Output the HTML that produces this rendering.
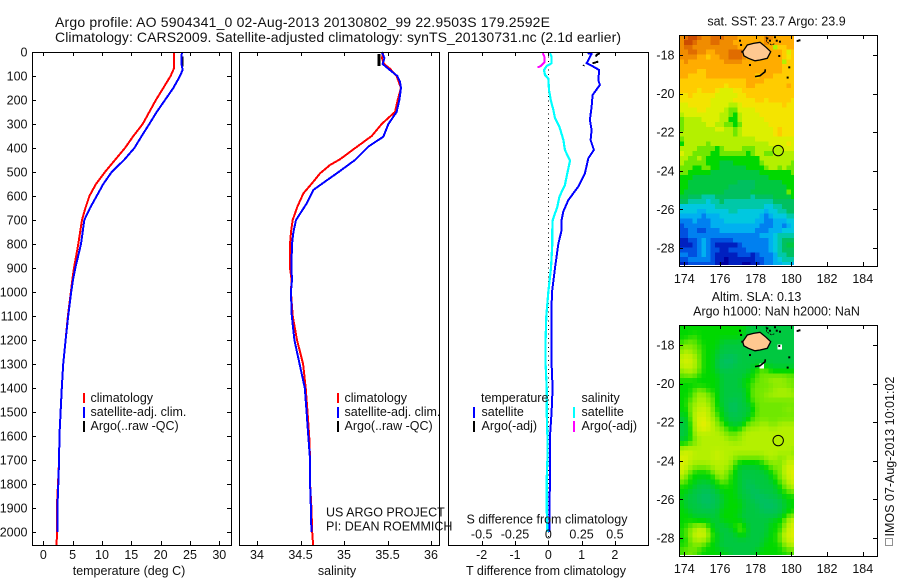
<!DOCTYPE html>
<html lang="en">
<head>
<meta charset="utf-8">
<title>Argo profile 5904341</title>
<style>
html,body{margin:0;padding:0;background:#fff;width:900px;height:580px;overflow:hidden}
svg{display:block}
text{font-family:"Liberation Sans",Arial,sans-serif;font-size:12.5px;fill:#111}
.t{font-size:14px}
</style>
</head>
<body>
<svg id="chart" xmlns="http://www.w3.org/2000/svg" width="900" height="580" viewBox="0 0 900 580">
<defs>
<clipPath id="clip-sst"><rect x="679" y="35" width="115" height="230"/></clipPath>
<clipPath id="clip-sla"><rect x="679" y="325" width="115" height="230"/></clipPath>
</defs>
<rect x="0" y="0" width="900" height="580" fill="#fff"/>
<text class="t" x="55" y="27" textLength="495" lengthAdjust="spacing">Argo profile: AO 5904341_0 02-Aug-2013 20130802_99 22.9503S 179.2592E</text>
<text class="t" x="55" y="42" textLength="566" lengthAdjust="spacing">Climatology: CARS2009. Satellite-adjusted climatology: synTS_20130731.nc (2.1d earlier)</text>

<g id="panel-t"></g>
<g id="panel-s"></g>
<g id="panel-d"></g>
<g id="map-sst"></g>
<g id="map-sla"></g>

<text x="129" y="575" text-anchor="middle">temperature (deg C)</text>
<text x="337" y="575" text-anchor="middle">salinity</text>
<text x="546" y="575" text-anchor="middle">T difference from climatology</text>
<text x="547" y="523.5" text-anchor="middle">S difference from climatology</text>

<g>
<rect x="83" y="393" width="2" height="10" fill="#f00"/>
<rect x="83" y="407" width="2" height="11" fill="#00f"/>
<rect x="83" y="421" width="2" height="11" fill="#000"/>
<text x="90.5" y="402">climatology</text>
<text x="90.5" y="416">satellite-adj. clim.</text>
<text x="90.5" y="430">Argo(..raw -QC)</text>
</g>
<g>
<rect x="337" y="393" width="2" height="10" fill="#f00"/>
<rect x="337" y="407" width="2" height="11" fill="#00f"/>
<rect x="337" y="421" width="2" height="11" fill="#000"/>
<text x="344.5" y="402">climatology</text>
<text x="344.5" y="416">satellite-adj. clim.</text>
<text x="344.5" y="430">Argo(..raw -QC)</text>
</g>
<g>
<text x="481" y="402">temperature</text>
<text x="581.5" y="402">salinity</text>
<rect x="473" y="407" width="2" height="11" fill="#00f"/>
<rect x="473" y="421" width="2" height="11" fill="#000"/>
<rect x="573" y="407" width="2" height="11" fill="#0ff"/>
<rect x="573" y="421" width="2" height="11" fill="#f0f"/>
<text x="481.5" y="416">satellite</text>
<text x="481.5" y="430">Argo(-adj)</text>
<text x="581.5" y="416">satellite</text>
<text x="581.5" y="430">Argo(-adj)</text>
</g>
<text x="326" y="516.5">US ARGO PROJECT</text>
<text x="326" y="530.5">PI: DEAN ROEMMICH</text>

<text x="776.5" y="25.5" text-anchor="middle">sat. SST: 23.7 Argo: 23.9</text>
<text x="756.5" y="301" text-anchor="middle">Altim. SLA: 0.13</text>
<text x="776.5" y="315.5" text-anchor="middle">Argo h1000: NaN h2000: NaN</text>
<rect x="885.5" y="538.5" width="7" height="7" fill="none" stroke="#222" stroke-dasharray="1 1"/>
<text transform="translate(894,536.5) rotate(-90)">IMOS 07-Aug-2013 10:01:02</text>
</svg>

<script>
// ---- profile values ----
const tempTicks = [0, 5, 10, 15, 20, 25, 30];
const salTicks = [34, 34.5, 35, 35.5, 36];
const salTickLabels = ["34", "34.5", "35", "35.5", "36"];
const depthTicks = [0,100,200,300,400,500,600,700,800,900,1000,1100,1200,1300,1400,1500,1600,1700,1800,1900,2000];
const tDiffTicks = [-2, -1, 0, 1, 2];
const sDiffTicks = [-0.5, -0.25, 0, 0.25, 0.5];
const sDiffTickLabels = ["-0.5", "-0.25", "0", "0.25", "0.5"];
const lonTicks = [174, 176, 178, 180, 182, 184];
const latTicks = [18, 20, 22, 24, 26, 28];

const depthClimT = [0,70,100,150,200,250,300,350,400,450,500,550,600,650,700,800,900,950,1000,1100,1200,1300,1400,1500,1600,1700,1800,1900,2000,2055];
const tempClim = [22.3,22.25,21.7,20.46,19.2,18.07,16.94,15.35,13.93,12.22,10.52,8.98,7.85,7.17,6.6,5.97,5.23,4.95,4.7,4.2,3.8,3.4,3.15,2.95,2.75,2.7,2.5,2.3,2.35,2.25];
const depthSatT = [0,50,75,100,150,200,250,300,350,400,450,500,550,600,650,700,800,900,950,1000,1100,1200,1300,1400,1500,1600,1700,1800,1900,2000];
const tempSat = [23.6,23.55,23.75,23.3,22.16,20.74,19.32,18.07,16.77,15.52,13.76,11.65,10.23,9.1,7.96,6.99,6.43,5.46,5.06,4.75,4.25,3.8,3.4,3.15,2.95,2.75,2.7,2.55,2.4,2.4];
const depthArgoT = [19, 40, 61];
const tempArgo = [23.75, 23.7, 23.75];

const depthClimS = [0,25,50,70,100,150,200,250,275,300,350,401,447,471,506,540,589,644,700,750,800,900,950,1000,1100,1200,1300,1400,1500,1600,1700,1800,1900,2000,2055];
const salClim = [35.452,35.437,35.46,35.529,35.605,35.655,35.617,35.586,35.509,35.433,35.318,35.126,34.954,34.839,34.724,34.648,34.533,34.464,34.41,34.391,34.379,34.379,34.398,34.39,34.41,34.46,34.53,34.56,34.58,34.6,34.61,34.61,34.625,34.635,34.645];
const depthSatS = [0,25,50,70,100,125,150,200,250,300,353,394,450,506,540,575,631,700,750,800,900,950,1000,1100,1200,1300,1400,1500,1600,1700,1800,1900,2000];
const salSat = [35.433,35.464,35.445,35.51,35.613,35.644,35.655,35.636,35.605,35.51,35.452,35.28,35.126,34.916,34.782,34.647,34.571,34.448,34.418,34.402,34.395,34.402,34.39,34.4,34.43,34.49,34.55,34.57,34.59,34.61,34.61,34.62,34.625];
const depthArgoS = [8, 30, 58];
const salArgo = [35.4, 35.4, 35.4];

const depthDiffT = [5,8,26,47,53,75,117,137,179,228,283,325,367,408,443,506,561,617,665,700,742,800,900,1000,1100,1200,1300,1400,1500,1600,1800,1850,1950,2000];
const tDiffSat = [1.18,1.3,1.23,1.15,1.25,1.53,1.5,1.55,1.33,1.3,1.25,1.3,1.27,1.37,1.2,1.1,0.9,0.6,0.45,0.4,0.4,0.3,0.2,0.11,0.09,0.09,0.1,0.13,0.1,0.05,0.05,0.04,0.03,0.03];
const depthDiffS = [5,19,47,58,75,96,110,158,200,242,276,311,367,408,453,506,554,603,644,700,742,800,900,1000,1100,1200,1300,1400,1500,1600,1700,1780,1900,2000];
const sDiffSat = [0.013,0.025,0.025,-0.012,-0.032,-0.025,0,0.005,0.018,0.038,0.05,0.083,0.113,0.125,0.163,0.143,0.125,0.083,0.068,0.033,0.03,0.03,0.02,0,-0.015,-0.02,-0.02,-0.012,-0.012,-0.007,-0.007,-0.012,-0.012,-0.007];
const depthArgoDiffS = [5,19,44,58,64];
const sDiffArgo = [-0.042,-0.03,-0.03,-0.055,-0.08];
const depthArgoDiffT1 = [5,12,19];
const tDiffArgo1 = [1.55,1.45,1.43];
const depthArgoDiffT2 = [40,47];
const tDiffArgo2 = [1.5,1.33];
const depthArgoDiffT3 = [54,58];
const tDiffArgo3 = [1.07,1.05];

// ---- map grids: colour-scale bins; rows north to south at 0.25 degree ----
const binColors = ["#0000a0","#0020c0","#0050e0","#0080f0","#00b0f0","#00c8e0","#00c8a8","#00c060","#00c840","#00d800","#70e800","#b4f000","#dcf000","#f4e400","#ffcc00","#ffac00","#f08c00","#e06c00","#cc4c00"];
const sstBins = [
[16,17,18,18,17,16,16,17,17,17,16,16,16,15,15,15,15,15,15,16,16,15,15,15,15,15],
[16,18,18,17,16,16,16,17,17,16,16,16,15,15,15,15,15,15,15,16,15,15,15,15,15,15],
[16,17,17,16,16,16,16,16,16,16,16,16,16,15,15,15,15,15,15,15,15,11,14,14,15,15],
[16,16,17,17,16,16,15,15,16,16,16,17,17,17,16,15,15,15,15,15,15,15,15,14,12,14],
[16,16,16,16,15,15,14,15,15,16,16,17,17,17,16,15,15,15,15,15,15,15,15,14,13,14],
[15,16,15,15,15,15,15,15,15,15,16,16,16,16,15,15,15,15,15,15,15,15,15,11,14,14],
[15,15,15,15,15,15,15,15,15,15,15,15,15,15,15,15,15,15,15,15,15,15,15,14,14,14],
[15,15,15,15,14,14,15,15,15,15,15,15,15,15,15,15,15,15,15,15,15,15,15,14,14,14],
[15,15,14,14,14,14,15,15,15,15,15,15,15,15,15,15,15,14,15,15,15,14,14,14,14,14],
[14,14,14,14,14,14,14,14,14,14,14,14,14,14,14,15,15,15,15,14,14,14,14,14,14,14],
[14,14,14,14,14,14,14,14,14,14,13,14,14,14,14,15,15,14,14,14,14,14,14,14,15,14],
[14,14,14,14,13,14,14,14,13,12,12,12,13,13,14,14,14,14,14,14,14,14,14,14,14,14],
[13,13,14,13,13,13,13,13,12,12,12,12,12,13,13,14,14,14,14,14,14,14,14,14,14,14],
[13,13,13,13,13,13,13,12,12,12,12,12,13,13,13,13,13,14,14,13,14,14,14,14,14,13],
[12,12,13,13,13,13,13,12,12,12,12,11,11,12,13,13,13,13,13,13,13,13,13,14,13,13],
[12,12,12,12,13,13,12,12,12,12,11,10,10,12,12,12,12,13,13,13,13,13,13,13,13,13],
[11,12,12,12,12,12,12,12,12,11,11,10,9,11,12,12,12,12,13,13,13,13,13,13,13,13],
[10,11,11,11,11,12,12,12,12,11,11,9,9,11,12,12,12,12,12,13,13,13,13,13,13,13],
[10,11,11,11,11,11,12,12,11,11,10,10,9,10,12,12,12,12,12,12,13,13,13,13,13,13],
[10,11,11,11,11,11,11,11,12,12,11,11,10,11,12,12,12,12,12,12,12,13,14,13,13,13],
[11,11,11,11,11,11,11,11,11,11,11,11,10,11,12,12,12,12,12,12,12,13,14,13,13,13],
[10,11,11,11,11,11,11,11,11,11,11,11,11,11,11,11,11,12,12,12,12,12,12,12,12,12],
[9,11,11,11,11,11,10,11,11,11,11,11,11,11,11,11,11,11,11,11,12,12,12,12,13,12],
[11,11,11,11,10,10,10,10,9,10,11,11,11,11,10,10,10,11,11,11,11,11,11,12,12,12],
[12,11,11,10,10,10,10,9,9,10,10,10,10,10,10,9,10,11,11,10,10,11,11,11,11,11],
[11,11,10,10,11,10,9,9,9,9,9,9,9,9,9,9,9,9,11,11,11,11,11,11,11,11],
[11,10,10,10,10,10,9,9,9,8,8,8,9,9,9,9,9,9,10,11,11,11,11,11,11,10],
[10,10,10,9,9,10,10,9,9,8,8,8,8,8,8,9,9,9,9,10,11,11,10,11,10,10],
[10,10,9,9,9,9,9,8,8,8,8,8,8,8,8,8,8,8,9,9,9,9,9,9,9,10],
[9,9,9,8,8,8,8,8,8,8,8,8,8,8,8,8,8,8,8,8,9,9,9,9,9,9],
[9,9,8,8,8,8,8,8,8,8,8,8,8,7,7,7,7,8,8,8,8,8,8,9,9,9],
[9,9,8,8,8,8,8,8,8,8,8,7,7,7,7,7,7,8,8,8,8,8,8,8,9,9],
[9,8,8,8,8,8,8,8,8,8,7,7,7,7,7,7,8,8,8,8,8,8,8,8,10,9],
[8,8,7,7,7,6,6,6,7,7,7,7,7,7,7,7,6,7,7,7,7,8,8,8,8,9],
[7,7,6,6,6,6,5,6,6,7,6,6,6,6,6,6,6,6,6,6,6,7,7,7,7,7],
[5,5,5,5,5,5,5,5,6,6,6,6,6,6,6,6,6,6,6,5,5,6,6,7,7,7],
[5,5,5,5,4,4,5,5,5,5,5,6,6,5,5,5,5,5,5,4,5,5,6,6,7,7],
[4,4,4,4,4,3,4,4,4,5,5,5,5,5,5,5,5,5,4,3,4,5,5,5,6,6],
[3,3,3,4,3,3,3,4,4,4,5,5,5,5,5,5,5,4,4,3,3,4,4,4,5,5],
[2,3,3,3,3,3,3,4,4,4,4,4,4,4,4,4,4,4,3,3,3,4,4,3,4,5],
[2,2,3,3,2,2,3,3,3,4,4,4,4,4,4,4,4,3,3,3,4,4,4,5,5,5],
[2,2,3,3,3,3,3,3,3,3,3,3,3,3,3,3,3,3,4,4,4,5,6,6,6,6],
[1,1,2,2,3,4,3,2,2,2,2,2,3,3,3,3,3,3,3,3,4,5,6,7,7,7],
[1,1,1,2,3,4,3,2,1,1,1,1,1,2,3,3,3,3,3,3,4,5,6,7,8,8],
[2,2,2,2,3,4,3,2,2,1,1,2,2,2,2,3,3,3,3,3,4,5,6,7,7,7],
[3,3,2,2,3,4,3,2,1,1,1,1,1,2,2,2,1,2,3,3,3,4,6,6,7,7],
[2,2,3,3,3,3,3,2,1,1,0,1,1,1,1,1,1,2,2,3,3,4,5,6,6,6],
[1,1,2,2,2,2,2,2,1,0,0,1,1,1,0,0,1,1,2,3,3,4,4,5,5,4]
];
const slaBins = [
[9,9,9,9,9,9,9,9,9,9,9,9,9,9,9,8,8,8,8,8,8,8,8,8,8,8],
[9,9,9,9,9,9,9,9,9,9,9,9,9,9,9,8,8,8,8,8,8,8,8,8,8,8],
[9,9,9,10,9,9,9,9,9,9,9,9,9,9,8,8,8,8,8,8,8,8,8,8,8,8],
[9,10,10,10,9,9,9,9,9,8,8,8,8,8,8,8,8,8,8,8,8,8,8,8,8,8],
[10,11,10,10,10,9,9,9,9,8,8,8,8,8,8,8,8,8,8,8,8,8,null,8,8,8],
[10,11,11,10,10,9,9,9,8,8,8,8,8,8,8,8,8,8,8,8,8,8,8,8,8,8],
[11,12,11,11,10,9,9,9,8,8,7,7,7,8,8,8,8,8,8,8,8,8,8,8,8,8],
[11,12,12,11,10,9,9,9,8,7,7,7,7,8,8,8,8,8,8,8,8,8,8,8,8,8],
[11,12,11,11,10,9,9,9,8,7,7,7,8,8,8,8,8,9,null,9,8,8,8,8,8,8],
[10,11,11,11,10,9,9,9,8,8,8,8,8,8,8,8,9,9,10,10,9,9,9,9,9,9],
[10,10,10,10,9,9,9,9,9,8,8,8,8,8,8,9,9,10,10,10,10,10,10,10,10,10],
[9,9,9,9,9,9,9,9,9,8,8,8,8,8,9,9,9,10,10,10,11,11,11,11,10,10],
[9,9,9,9,9,9,9,9,9,8,8,8,8,8,9,9,10,10,10,10,10,10,10,10,10,10],
[9,9,9,10,10,10,9,9,9,8,8,8,8,8,8,9,10,10,10,10,10,11,11,11,11,10],
[9,9,9,10,11,11,10,10,9,8,8,8,8,8,8,9,10,10,10,11,11,11,11,11,11,11],
[9,9,10,10,11,11,10,10,9,8,8,8,7,8,8,9,10,10,10,10,10,10,10,10,10,10],
[9,9,10,11,11,11,11,10,9,8,8,7,7,8,8,8,9,10,10,10,10,10,10,10,10,10],
[9,9,10,11,11,12,11,10,9,9,8,7,7,8,8,8,9,10,10,10,10,10,10,10,11,10],
[9,8,10,11,12,12,11,11,9,9,8,8,7,8,8,8,9,10,10,10,10,10,10,10,10,10],
[8,8,10,11,12,12,11,11,10,9,8,8,8,8,8,9,10,10,10,10,10,10,10,10,10,10],
[8,8,9,11,12,13,12,11,10,10,9,8,8,8,9,10,10,10,11,11,10,10,11,11,11,11],
[8,8,9,11,12,12,12,11,11,10,10,9,9,9,10,11,11,11,11,11,11,11,11,11,11,11],
[8,8,9,11,11,11,11,11,11,11,10,10,10,11,11,11,11,11,11,11,11,11,11,11,11,11],
[8,8,9,10,11,11,11,11,11,11,11,10,10,10,11,11,11,11,11,11,11,11,11,11,11,11],
[9,9,10,10,11,11,11,11,11,11,11,11,11,11,11,11,11,11,11,11,11,11,11,11,11,11],
[11,11,11,11,11,11,11,11,11,11,11,11,11,11,11,11,11,11,11,11,11,11,11,11,11,11],
[11,12,12,11,11,11,11,11,12,11,11,11,11,11,11,11,11,11,11,11,11,11,11,11,11,10],
[12,12,11,11,11,11,11,11,12,11,11,11,10,10,10,10,10,10,10,11,11,11,10,10,11,11],
[12,12,11,11,11,11,11,11,11,11,11,11,10,9,9,9,9,9,9,10,10,11,10,11,12,11],
[12,11,11,10,10,10,10,11,11,11,11,10,9,8,8,8,8,8,9,9,10,10,10,11,12,12],
[12,11,10,9,9,9,9,10,11,11,10,10,9,8,8,8,8,8,8,8,9,10,10,11,12,12],
[11,10,9,9,9,9,9,9,10,11,10,9,9,8,8,8,8,8,8,8,9,9,10,11,12,12],
[10,10,9,9,8,8,8,9,9,10,10,9,9,8,8,7,8,8,8,8,8,9,10,10,11,12],
[9,9,9,8,8,8,8,8,9,9,9,9,9,8,8,7,7,8,8,8,8,8,9,10,11,11],
[9,9,8,8,8,7,7,8,8,9,9,9,9,8,8,8,7,7,8,8,8,8,9,9,10,10],
[9,8,8,8,7,7,7,7,8,8,9,9,9,8,8,8,7,7,7,7,8,8,8,9,9,9],
[9,8,8,8,7,7,7,7,8,8,9,9,9,9,8,8,8,7,7,7,7,7,8,8,9,9],
[9,8,8,8,8,7,7,7,8,8,9,9,9,9,8,8,8,8,7,7,7,7,8,8,9,9],
[9,9,8,8,8,8,8,8,8,9,9,9,9,9,8,8,8,8,7,7,7,7,8,8,9,9],
[9,9,9,8,8,8,8,8,8,9,9,9,9,8,8,8,8,8,8,8,8,8,8,9,10,10],
[9,9,9,9,9,9,9,8,8,9,9,9,9,9,8,8,8,8,8,8,8,9,9,10,11,12],
[9,9,10,10,10,10,9,9,8,8,8,9,9,10,9,8,8,8,8,8,9,9,9,10,11,12],
[9,10,10,11,12,12,10,9,8,8,8,8,9,10,10,8,8,8,8,8,9,9,9,11,12,12],
[9,10,10,12,11,12,11,9,9,8,8,8,8,9,9,8,8,8,8,8,9,9,10,11,12,12],
[9,9,10,11,11,11,10,9,9,8,8,8,8,8,8,8,8,8,8,9,9,9,10,11,12,12],
[9,9,10,10,10,10,9,9,8,8,8,8,8,8,8,8,8,8,8,9,9,9,9,10,11,11],
[10,10,10,10,10,9,9,9,9,8,8,8,8,8,8,8,8,8,9,9,9,9,9,10,10,10],
[9,10,10,10,9,9,9,9,9,9,9,8,8,8,8,8,8,9,9,9,9,9,9,9,9,10]
];
const gridLon0 = 173.72;
const gridLat0 = 16.97;
const gridStep = 0.25;

// ---- coast (lon, lat) ----
const mainIslandLon = [177.27,177.53,177.87,178.24,178.58,178.84,178.65,178.24,177.96,177.59,177.34];
const mainIslandLat = [17.83,17.48,17.4,17.34,17.6,17.83,18.17,18.26,18.3,18.17,18.04];
const secondCoastLon = [177.96,178.24,178.52,178.54];
const secondCoastLat = [19.12,19.07,18.87,18.74];
const arcCoastLon = [178.58,178.61,178.89,179.08];
const arcCoastLat = [17.05,17.31,17.48,17.4];
const isletLon = [177.12,177.18,177.25,177.68,179.36,179.32,179.88,179.79,180.45,180.35,178.65,178.8,179.18,179.08];
const isletLat = [17.26,17.48,17.83,18.52,17.31,18.05,18.64,19.17,17.24,17.27,17.14,17.26,17.26,17.08];
const argoLon = 179.26;
const argoLat = 22.95;

// ---- scales ----
function depthY(d){ return 52 + d * 0.24; }
function tempX(t){ return 43.3 + t * 5.867; }
function salX(s){ return 257 + (s - 34) * 87; }
function tDiffX(v){ return 548.3 + v * 33.3; }
function sDiffX(v){ return 548.3 + v * 133.2; }
function lonX(l){ return 684.3 + (l - 174) * 17.85; }
function latY(l, base){ return base + (l - 18) * 19.3; }

function binColor(v){
  const lo = Math.max(0, Math.min(binColors.length - 1, Math.floor(v)));
  const hi = Math.min(binColors.length - 1, lo + 1);
  const f = v - lo;
  let out = "rgb(";
  for (let k = 0; k < 3; k++) {
    const a = parseInt(binColors[lo].substr(1 + k * 2, 2), 16);
    const b = parseInt(binColors[hi].substr(1 + k * 2, 2), 16);
    out += Math.round(a + (b - a) * f) + (k < 2 ? "," : ")");
  }
  return out;
}
function smoothed(bins, r, c){
  let sum = 0, w = 0;
  for (let dr = -1; dr <= 1; dr++) {
    for (let dc = -1; dc <= 1; dc++) {
      const row = bins[r + dr];
      if (!row) continue;
      const v = row[c + dc];
      if (v === null || v === undefined) continue;
      const wt = (dr === 0 && dc === 0) ? 4 : ((dr === 0 || dc === 0) ? 2 : 1);
      sum += v * wt;
      w += wt;
    }
  }
  return sum / w;
}

const NS = "http://www.w3.org/2000/svg";
function mk(tag, parent){
  const el = document.createElementNS(NS, tag);
  parent.appendChild(el);
  return el;
}
function hv(parent, x1, y1, x2, y2, name){
  const l = mk("line", parent);
  l.setAttribute("x1", x1);
  l.setAttribute("y1", y1);
  l.setAttribute("x2", x2);
  l.setAttribute("y2", y2);
  l.setAttribute("stroke", "#000");
  l.setAttribute("stroke-width", "1");
  l.setAttribute("shape-rendering", "crispEdges");
  
  
  return l;
}
function label(parent, x, y, str, anchor, name){
  const t = mk("text", parent);
  t.setAttribute("x", x);
  t.setAttribute("y", y);
  t.setAttribute("text-anchor", anchor);
  t.textContent = str;
  
  
  return t;
}
function frame(parent, x, y, w, h, name){
  const r = mk("rect", parent);
  r.setAttribute("x", x + 0.5);
  r.setAttribute("y", y + 0.5);
  r.setAttribute("width", w);
  r.setAttribute("height", h);
  r.setAttribute("fill", "none");
  r.setAttribute("stroke", "#000");
  r.setAttribute("shape-rendering", "crispEdges");
  
  
}
function series(parent, depths, values, xf, color, width, name){
  const p = mk("polyline", parent);
  p.setAttribute("points", depths.map(function(d, i){ return xf(values[i]).toFixed(1) + "," + depthY(d).toFixed(1); }).join(" "));
  p.setAttribute("fill", "none");
  p.setAttribute("stroke", color);
  p.setAttribute("stroke-width", width);
  p.setAttribute("stroke-linejoin", "round");
  p.setAttribute("shape-rendering", "crispEdges");
  
  
}

// ---- profile panels ----
const pTop = 52, pBot = 545;
const pT = document.getElementById("panel-t");
const pS = document.getElementById("panel-s");
const pD = document.getElementById("panel-d");

series(pT, depthClimT, tempClim, tempX, "#f00", 2, "temperature-climatology-line");
series(pT, depthArgoT, tempArgo, tempX, "#000", 2, "temperature-argo-line");
series(pT, depthSatT, tempSat, tempX, "#00f", 2, "temperature-satellite-line");
frame(pT, 32, pTop, 199, pBot - pTop, "temperature-plot-frame");
tempTicks.forEach(function(t){
  const x = Math.round(tempX(t)) + 0.5;
  hv(pT, x, pTop, x, pTop + 4, "temperature-top-tick");
  hv(pT, x, pBot, x, pBot - 4, "temperature-bottom-tick");
  label(pT, tempX(t), 559, String(t), "middle", "temperature-tick-label");
});
depthTicks.forEach(function(d){
  const y = Math.round(depthY(d)) + 0.5;
  hv(pT, 32, y, 36, y, "depth-left-tick");
  hv(pT, 231, y, 227, y, "depth-right-tick");
  label(pT, 27.5, depthY(d) + 4.5, String(d), "end", "depth-tick-label");
});

series(pS, depthClimS, salClim, salX, "#f00", 2, "salinity-climatology-line");
series(pS, depthArgoS, salArgo, salX, "#000", 3, "salinity-argo-line");
series(pS, depthSatS, salSat, salX, "#00f", 2, "salinity-satellite-line");
frame(pS, 239, pTop, 200, pBot - pTop, "salinity-plot-frame");
salTicks.forEach(function(s, i){
  const x = Math.round(salX(s)) + 0.5;
  hv(pS, x, pTop, x, pTop + 4, "salinity-top-tick");
  hv(pS, x, pBot, x, pBot - 4, "salinity-bottom-tick");
  label(pS, salX(s), 559, salTickLabels[i], "middle", "salinity-tick-label");
});

const zero = mk("line", pD);
zero.setAttribute("x1", tDiffX(0));
zero.setAttribute("x2", tDiffX(0));
zero.setAttribute("y1", pTop);
zero.setAttribute("y2", pBot);
zero.setAttribute("stroke", "#000");
zero.setAttribute("stroke-dasharray", "1 3.4");
zero.setAttribute("shape-rendering", "crispEdges");


series(pD, depthDiffS, sDiffSat, sDiffX, "#0ff", 2.2, "s-difference-satellite-line");
series(pD, depthDiffT, tDiffSat, tDiffX, "#00f", 2, "t-difference-satellite-line");
series(pD, depthArgoDiffS, sDiffArgo, sDiffX, "#f0f", 2, "s-difference-argo-line");
series(pD, depthArgoDiffT1, tDiffArgo1, tDiffX, "#000", 2, "t-difference-argo-line");
series(pD, depthArgoDiffT2, tDiffArgo2, tDiffX, "#000", 2, "t-difference-argo-line");
series(pD, depthArgoDiffT3, tDiffArgo3, tDiffX, "#000", 2, "t-difference-argo-line");
frame(pD, 448, pTop, 200, pBot - pTop, "difference-plot-frame");
tDiffTicks.forEach(function(t){
  const x = Math.round(tDiffX(t)) + 0.5;
  hv(pD, x, pTop, x, pTop + 4, "t-difference-top-tick");
  hv(pD, x, pBot, x, pBot - 4, "t-difference-bottom-tick");
  label(pD, tDiffX(t), 559, String(t), "middle", "t-difference-tick-label");
});
sDiffTicks.forEach(function(s, i){
  label(pD, sDiffX(s), 538.5, sDiffTickLabels[i], "middle", "s-difference-tick-label");
});

// ---- maps ----
function drawMap(groupId, bins, base, top, bottom, clipId, prefix, smooth){
  const g = document.getElementById(groupId);
  const cells = mk("g", g);
  cells.setAttribute("clip-path", "url(#" + clipId + ")");
  
  
  const cw = gridStep * 17.85;
  const ch = gridStep * 19.3;
  bins.forEach(function(row, r){
    row.forEach(function(v, c){
      if (v === null) return;
      const rect = mk("rect", cells);
      rect.setAttribute("x", lonX(gridLon0 + c * gridStep).toFixed(2));
      rect.setAttribute("y", latY(gridLat0 + r * gridStep, base).toFixed(2));
      rect.setAttribute("width", cw.toFixed(2));
      rect.setAttribute("height", ch.toFixed(2));
      rect.setAttribute("fill", binColor(smooth ? smoothed(bins, r, c) : v));
      rect.setAttribute("shape-rendering", "crispEdges");
      
      
    });
  });
  function pts(lons, lats){
    return lons.map(function(l, i){ return lonX(l).toFixed(1) + "," + latY(lats[i], base).toFixed(1); }).join(" ");
  }
  const isl = mk("polygon", g);
  isl.setAttribute("points", pts(mainIslandLon, mainIslandLat));
  isl.setAttribute("fill", "#ffc890");
  isl.setAttribute("stroke", "#000");
  isl.setAttribute("stroke-width", "1.3");
  
  
  const c2 = mk("polyline", g);
  c2.setAttribute("points", pts(secondCoastLon, secondCoastLat));
  c2.setAttribute("fill", "none");
  c2.setAttribute("stroke", "#000");
  c2.setAttribute("stroke-width", "1.6");
  
  
  const c3 = mk("polyline", g);
  c3.setAttribute("points", pts(arcCoastLon, arcCoastLat));
  c3.setAttribute("fill", "none");
  c3.setAttribute("stroke", "#000");
  c3.setAttribute("stroke-width", "0.8");
  c3.setAttribute("stroke-dasharray", "2 1");
  
  
  isletLon.forEach(function(l, i){
    const d = mk("rect", g);
    d.setAttribute("x", lonX(l) - 1);
    d.setAttribute("y", latY(isletLat[i], base) - 1);
    d.setAttribute("width", 2);
    d.setAttribute("height", 2);
    d.setAttribute("fill", "#000");
    
    
  });
  const circ = mk("circle", g);
  circ.setAttribute("cx", lonX(argoLon));
  circ.setAttribute("cy", latY(argoLat, base));
  circ.setAttribute("r", 5.2);
  circ.setAttribute("fill", "none");
  circ.setAttribute("stroke", "#000");
  circ.setAttribute("stroke-width", "1");
  
  
  frame(g, 679, top, 198, bottom - top, prefix + "-map-frame");
  lonTicks.forEach(function(l){
    const x = Math.round(lonX(l)) + 0.5;
    hv(g, x, top, x, top + 4, prefix + "-lon-top-tick");
    hv(g, x, bottom, x, bottom - 4, prefix + "-lon-bottom-tick");
    label(g, lonX(l), bottom + 17, String(l), "middle", prefix + "-lon-label");
  });
  latTicks.forEach(function(l){
    const y = Math.round(latY(l, base)) + 0.5;
    hv(g, 679, y, 683, y, prefix + "-lat-left-tick");
    hv(g, 877, y, 873, y, prefix + "-lat-right-tick");
    label(g, 674.5, latY(l, base) + 4.5, "-" + l, "end", prefix + "-lat-label");
  });
}
drawMap("map-sst", sstBins, 55, 35, 266, "clip-sst", "sst", false);
drawMap("map-sla", slaBins, 345, 325, 556, "clip-sla", "sla", true);
</script>
</body>
</html>
